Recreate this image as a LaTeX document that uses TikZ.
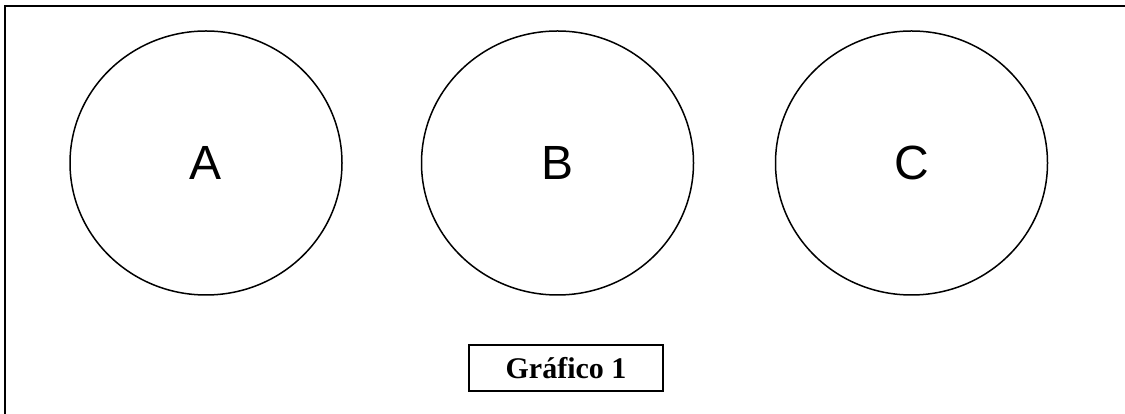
\documentclass[tikz,border=0pt]{standalone}
\usepackage{fontspec}
\setmainfont{Liberation Serif}
\newfontfamily\arialfont{Liberation Sans}
\usetikzlibrary{shapes.geometric}
\begin{document}
\begin{tikzpicture}[x=1pt,y=1pt,
  bigcirc/.style={ellipse, draw, line width=1.5pt, minimum width=272pt, minimum height=264pt, inner sep=0pt,
    font=\arialfont\fontsize{48}{52}\selectfont},
  labelbox/.style={draw, line width=1.8pt, minimum width=194pt, minimum height=46pt, inner sep=0pt,
    font=\bfseries\fontsize{30}{34}\selectfont}]
\useasboundingbox (0,0) rectangle (1125,414);
\coordinate (fbl) at (5,-2);
\coordinate (ftl) at (5,408);
\coordinate (ftr) at (1127,408);
\draw[line width=2.4pt] (fbl) -- (ftl) -- (ftr);
\node[bigcirc] (A) at (206,251) {\raisebox{-4pt}{A}};
\node[bigcirc] (B) at (557.5,251) {\raisebox{-4pt}{B}};
\node[bigcirc] (C) at (911.5,251) {\raisebox{-4pt}{C}};
\node[labelbox] (g) at (566,46) {\raisebox{-2pt}{Gráfico 1}};
\end{tikzpicture}
\end{document}
